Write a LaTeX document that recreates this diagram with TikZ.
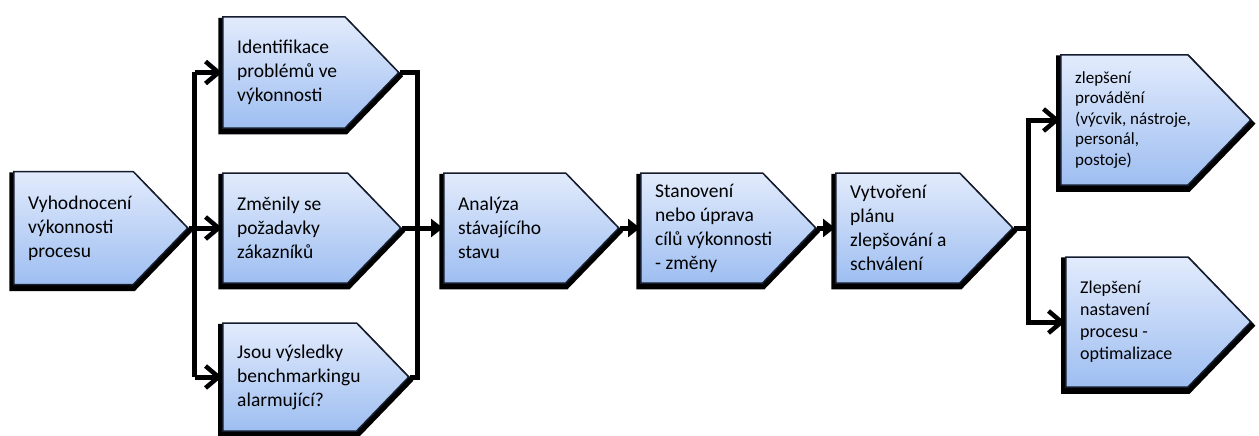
\documentclass[tikz,border=0pt]{standalone}
\usepackage{fontspec}
\setmainfont{Carlito}
\usetikzlibrary{shapes.symbols,shadows,arrows.meta,positioning}

\definecolor{boxtop}{RGB}{226,235,252}
\definecolor{boxbot}{RGB}{158,190,241}
\definecolor{boxline}{RGB}{20,28,45}

\tikzset{
  chev/.style={signal, signal to=east, signal pointer angle=92,
    top color=boxtop, bottom color=boxbot, draw=boxline, line width=1.5pt,
    inner sep=0pt, anchor=west,
    drop shadow={shadow xshift=0pt, shadow yshift=-3.5pt, shadow scale=1.05,
      opacity=1, fill=black}},
  txt/.style={align=left, inner sep=0pt, font=\fontsize{19.5}{24}\selectfont},
  conn/.style={line width=5pt, line join=miter},
  barb/.style={-{Straight Barb[length=13pt,width=22pt,line width=4.5pt]}},
  tri/.style={-{Triangle[length=12pt,width=18pt]}}
}

\begin{document}
\begin{tikzpicture}[x=1pt,y=-1pt]
\useasboundingbox (0,0) rectangle (1259,436);

\node[chev, minimum width=174pt, minimum height=113pt] (vyhod) at (13,228) {};
\node[chev, minimum width=176pt, minimum height=111pt] (ident) at (222,72.5) {};
\node[chev, minimum width=178pt, minimum height=110pt] (zmeny) at (222,228) {};
\node[chev, minimum width=186pt, minimum height=108pt] (bench) at (222,377) {};
\node[chev, minimum width=175pt, minimum height=110pt] (analyza) at (443,228) {};
\node[chev, minimum width=175pt, minimum height=110pt] (stanov) at (640,228) {};
\node[chev, minimum width=177pt, minimum height=110pt] (plan) at (835,228) {};
\node[chev, minimum width=190pt, minimum height=130pt] (provad) at (1060,120) {};
\node[chev, minimum width=185pt, minimum height=130pt] (nastav) at (1065,322) {};

\node[txt, right=15pt of vyhod.west] (vyhodT) {Vyhodnocení\\výkonnosti\\procesu};
\node[txt, right=15pt of ident.west] (identT) {Identifikace\\problémů ve\\výkonnosti};
\node[txt, right=15pt of zmeny.west] (zmenyT) {Změnily se\\požadavky\\zákazníků};
\node[txt, right=15pt of bench.west] (benchT) {Jsou výsledky\\benchmarkingu\\alarmující?};
\node[txt, right=15pt of analyza.west] (analyzaT) {Analýza\\stávajícího\\stavu};
\node[txt, right=15pt of stanov.west] (stanovT) {Stanovení\\nebo úprava\\cílů výkonnosti\\- změny};
\node[txt, right=15pt of plan.west] (planT) {Vytvoření\\plánu\\zlepšování a\\schválení};
\node[txt, right=15pt of provad.west, font=\fontsize{17}{20.5}\selectfont] (provadT)
  {zlepšení\\provádění\\(výcvik, nástroje,\\personál,\\postoje)};
\node[txt, right=15pt of nastav.west, font=\fontsize{18}{22}\selectfont] (nastavT)
  {Zlepšení\\nastavení\\procesu -\\optimalizace};

\coordinate[right=6pt of vyhod.east] (splitL);
\coordinate (joinL) at (417,228);
\coordinate (splitR) at (1028,228);

\draw[conn] (vyhod.east) -- (splitL);
\draw[conn] (splitL |- ident.west) -- (splitL |- bench.west);
\draw[conn,barb] (splitL |- ident.west) -- (ident.west);
\draw[conn,barb] (splitL) -- (zmeny.west);
\draw[conn,barb] (splitL |- bench.west) -- (bench.west);

\draw[conn] (ident.east) -| (joinL) |- (bench.east);
\draw[conn,tri] (zmeny.east) -- (analyza.west);
\draw[conn,tri] (analyza.east) -- (stanov.west);
\draw[conn,tri] (stanov.east) -- (plan.west);

\draw[conn] (plan.east) -- (splitR);
\draw[conn,barb] (splitR) |- (provad.west);
\draw[conn,barb] (splitR) |- (nastav.west);
\end{tikzpicture}
\end{document}
